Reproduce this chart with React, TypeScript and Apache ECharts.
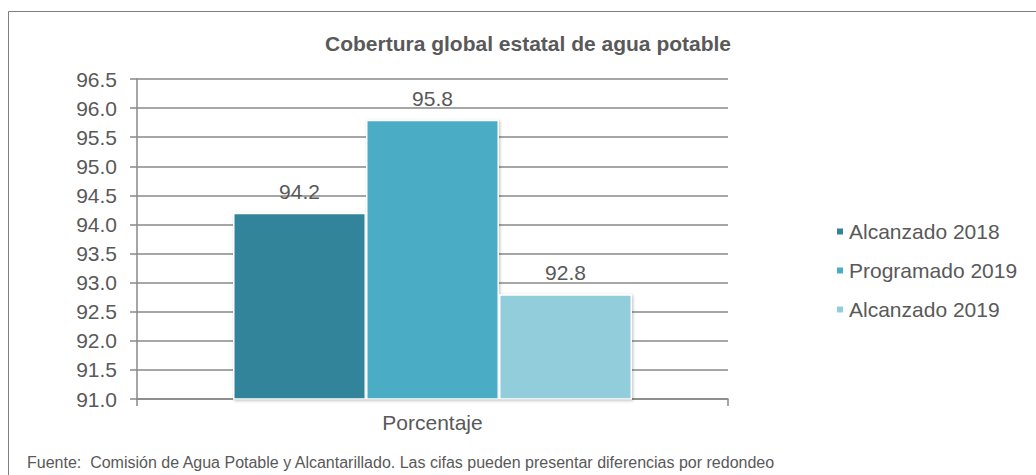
import React, { useEffect, useRef } from "react";
import * as echarts from "echarts";

const categories = ["Porcentaje"];
const seriesNames = ["Alcanzado 2018", "Programado 2019", "Alcanzado 2019"];
const seriesValues = [[94.2], [95.8], [92.8]];
const seriesColors = ["#31849B", "#4BACC6", "#92CDDC"];
const titleText = "Cobertura global estatal de agua potable";
const footerText =
  "Fuente:  Comisión de Agua Potable y Alcantarillado. Las cifas pueden presentar diferencias por redondeo";

const FONT = "'Liberation Sans', Arial, sans-serif";
const TXT = "#595959";
const LINE = "#888888";

export default function App() {
  const ref = useRef<HTMLDivElement>(null);
  useEffect(() => {
    if (!ref.current) return;
    const chart = echarts.init(ref.current, null, { renderer: "svg" });
    chart.setOption({
      animation: false,
      textStyle: { fontFamily: FONT },
      title: {
        text: titleText,
        left: 528,
        textAlign: "center",
        top: 33,
        padding: 0,
        textStyle: { fontSize: 21, fontWeight: "bold", color: TXT, fontFamily: FONT },
      },
      legend: {
        orient: "vertical",
        left: 835,
        top: 221,
        padding: 0,
        itemWidth: 8,
        itemHeight: 8,
        itemGap: 18,
        icon: "rect",
        textStyle: { fontSize: 21, color: TXT, fontFamily: FONT },
        data: seriesNames,
      },
      grid: { left: 137, right: 308, top: 79, bottom: 76, containLabel: false },
      xAxis: {
        type: "category",
        data: categories,
        axisLine: { lineStyle: { color: LINE, width: 1.5 } },
        axisTick: { show: true, length: 7, lineStyle: { color: LINE, width: 1.5 } },
        axisLabel: { fontSize: 21, color: TXT, margin: 13, fontFamily: FONT },
      },
      yAxis: {
        type: "value",
        min: 91,
        max: 96.5,
        interval: 0.5,
        axisLine: { show: true, lineStyle: { color: LINE, width: 1.5 } },
        axisTick: { show: true, length: 7, lineStyle: { color: LINE, width: 1.5 } },
        splitLine: { lineStyle: { color: LINE, width: 1.5 } },
        axisLabel: {
          fontSize: 21,
          color: TXT,
          margin: 20,
          fontFamily: FONT,
          formatter: (v: number) => v.toFixed(1),
        },
      },
      series: seriesNames.map((name, i) => ({
        name,
        type: "bar",
        data: seriesValues[i],
        barWidth: 133,
        barGap: "0%",
        itemStyle: {
          color: seriesColors[i],
          borderColor: "#ffffff",
          borderWidth: 1.5,
          shadowBlur: 3,
          shadowColor: "rgba(0,0,0,0.25)",
          shadowOffsetX: 1,
          shadowOffsetY: 1,
        },
        label: {
          show: true,
          position: "top",
          distance: 11,
          fontSize: 21,
          color: TXT,
          fontFamily: FONT,
          formatter: (p: any) => Number(p.value).toFixed(1),
        },
      })),
      graphic: [
        {
          type: "line",
          shape: { x1: 8.5, y1: 11.5, x2: 1036, y2: 11.5 },
          style: { stroke: "#7f7f7f", lineWidth: 1 },
        },
        {
          type: "line",
          shape: { x1: 8.5, y1: 11.5, x2: 8.5, y2: 475 },
          style: { stroke: "#7f7f7f", lineWidth: 1 },
        },
        {
          type: "text",
          left: 27,
          top: 454,
          style: { text: footerText, fontSize: 16, fill: TXT, fontFamily: FONT },
        },
      ],
    });
    return () => chart.dispose();
  }, []);
  return (
    <div
      ref={ref}
      style={{ position: "absolute", left: 0, top: 0, width: 1036, height: 475, background: "#fff" }}
    />
  );
}
